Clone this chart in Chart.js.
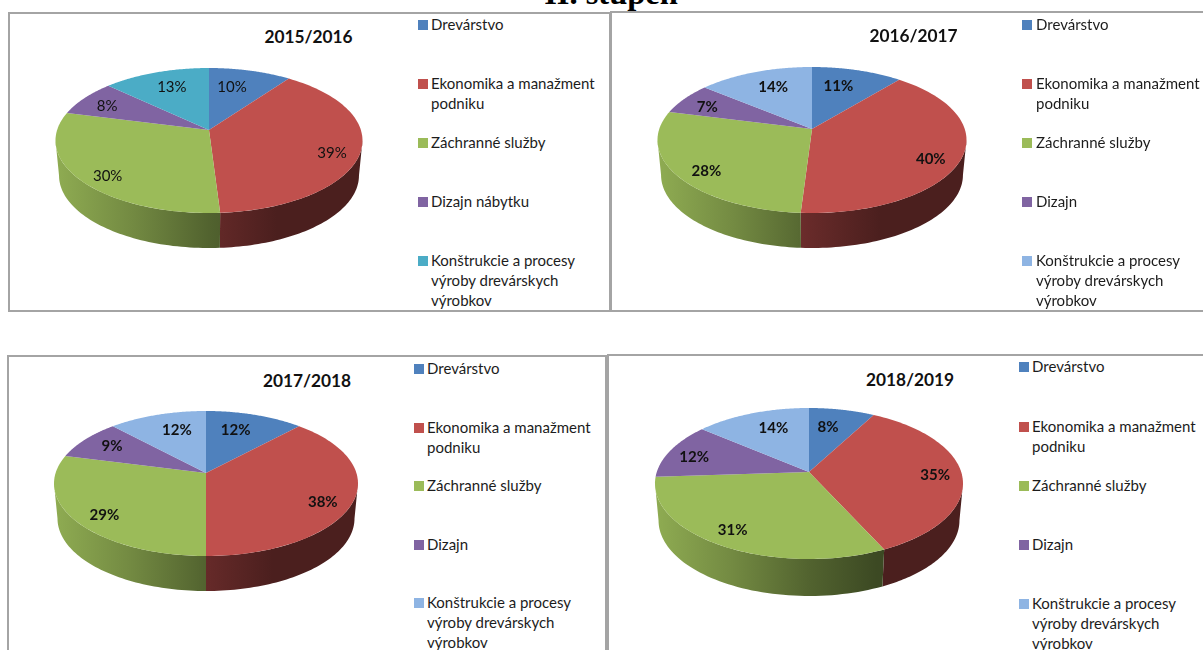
<!DOCTYPE html>
<html>
<head>
<meta charset="utf-8">
<script src="https://cdn.jsdelivr.net/npm/chart.js@4/dist/chart.umd.min.js"></script>
<style>
  html, body { margin: 0; padding: 0; background: #fff; width: 1203px; height: 650px; overflow: hidden; }
  body { position: relative; font-family: Lato, sans-serif; color: #1c1c1c; }
  .frame { position: absolute; box-sizing: border-box; border: 2px solid #a4a4a4; }
  canvas { position: absolute; }
  .head { position: absolute; left: 611px; top: -25px; transform: translateX(-50%); font: bold 32.5px "Liberation Serif", serif; color: #000; white-space: nowrap; }
  .year { position: absolute; transform: translate(-50%, -50%); font: bold 17.3px Lato, sans-serif; color: #111; white-space: nowrap; }
  .swatch { position: absolute; width: 10px; height: 10px; }
  .item { position: absolute; font-size: 15px; line-height: 20px; white-space: pre-line; }
</style>
</head>
<body>
<div class="head">II. stupeň</div>
<script>
const years = ['2015/2016', '2016/2017', '2017/2018', '2018/2019'];
const categoriesFirst = ['Drevárstvo', 'Ekonomika a manažment\npodniku', 'Záchranné služby', 'Dizajn nábytku', 'Konštrukcie a procesy\nvýroby drevárskych\nvýrobkov'];
const categoriesRest = ['Drevárstvo', 'Ekonomika a manažment\npodniku', 'Záchranné služby', 'Dizajn', 'Konštrukcie a procesy\nvýroby drevárskych\nvýrobkov'];
const shares1516 = [10, 39, 30, 8, 13];
const shares1617 = [11, 40, 28, 7, 14];
const shares1718 = [12, 38, 29, 9, 12];
const shares1819 = [8, 35, 31, 12, 14];
const colorsFirst = ['#4F81BD', '#C0504D', '#9BBB59', '#8064A2', '#4BACC6'];
const colorsRest = ['#4F81BD', '#C0504D', '#9BBB59', '#8064A2', '#8EB4E3'];

// where each picture sits on the page (top/bottom = apex to back/front rim)
const panels = [
  { frame: [8, 12, 603, 300], cx: 209, cy: 130, top: 62, bottom: 83, rx: 153.5, depth: 35, titleAt: [308.5, 36],
    legendX: 418, textX: 431, rows: [25, 84, 143, 202, 261], weight: 'normal',
    labels: years[0], values: shares1516, names: categoriesFirst, colors: colorsFirst,
    nudge: [[-10, 5], [5.5, 7], [-3, 8], [-3.5, 1], [5.5, 3]] },
  { frame: [610, 11, 600, 301], cx: 812, cy: 129, top: 62, bottom: 84, rx: 154.5, depth: 35, titleAt: [913.5, 35],
    legendX: 1022, textX: 1036, rows: [25, 84, 143, 202, 261], weight: 'bold',
    labels: years[1], values: shares1617, names: categoriesRest, colors: colorsRest,
    nudge: [[-10, 4], [3, 9], [-2, 7], [-4, 2], [7, 4]] },
  { frame: [7, 355, 600, 320], cx: 206, cy: 473, top: 62, bottom: 83, rx: 152, depth: 35, titleAt: [307, 380],
    legendX: 414, textX: 427, rows: [369, 428, 486, 545, 603], weight: 'bold',
    labels: years[2], values: shares1718, names: categoriesRest, colors: colorsRest,
    nudge: [[-9.5, 3.5], [3, 8], [-2, 6], [1.5, 0], [10, 3.5]] },
  { frame: [607, 354, 620, 320], cx: 809, cy: 472, top: 64, bottom: 87, rx: 154, depth: 37, titleAt: [910, 379],
    legendX: 1019, textX: 1032, rows: [367, 427, 486, 545, 604], weight: 'bold',
    labels: years[3], values: shares1819, names: categoriesRest, colors: colorsRest,
    nudge: [[-7.5, 5], [7, 1], [-9, 3], [-6, 2], [10, 3]] }
];

function shade(hex, k) {
  const n = parseInt(hex.slice(1), 16);
  const c = [n >> 16, (n >> 8) & 255, n & 255].map(v => Math.round(v * k));
  return `rgb(${c[0]},${c[1]},${c[2]})`;
}

// tilted disc seen in perspective, the library's arcs give the angles
const tiltedPie = {
  id: 'tiltedPie',
  beforeDatasetsDraw(chart, args, opts) {
    const ctx = chart.ctx;
    const p = opts.persp, s = opts.squash, depth = opts.depth, rx = opts.rx;
    const arcs = chart.getDatasetMeta(0).data;
    const at = (el, a, f) => {
      const d = 1 - p * f * Math.sin(a);
      return [el.outerRadius * f * Math.cos(a) / d, s * f * Math.sin(a) / d];
    };
    const wallFrom = Math.asin(p), wallTo = Math.PI - wallFrom;

    // side wall first
    arcs.forEach((el) => {
      const color = el.options.backgroundColor;
      const a0 = Math.max(el.startAngle, wallFrom), a1 = Math.min(el.endAngle, wallTo);
      if (a1 <= a0) return;
      const pts = [];
      for (let i = 0; i <= 60; i++) pts.push(at(el, a0 + (a1 - a0) * i / 60, 1));
      const g = ctx.createLinearGradient(el.x - rx, 0, el.x + rx, 0);
      g.addColorStop(0, shade(color, 0.92));
      g.addColorStop(0.25, shade(color, 0.74));
      g.addColorStop(0.5, shade(color, 0.53));
      g.addColorStop(0.72, shade(color, 0.39));
      g.addColorStop(1, shade(color, 0.39));
      ctx.beginPath();
      pts.forEach((q, i) => i ? ctx.lineTo(el.x + q[0], el.y + q[1]) : ctx.moveTo(el.x + q[0], el.y + q[1]));
      pts.slice().reverse().forEach(q => ctx.lineTo(el.x + q[0] * 0.977, el.y + q[1] + depth));
      ctx.closePath();
      ctx.fillStyle = g;
      ctx.fill();
    });

    // top face
    arcs.forEach((el) => {
      ctx.beginPath();
      ctx.moveTo(el.x, el.y);
      for (let i = 0; i <= 80; i++) {
        const q = at(el, el.startAngle + (el.endAngle - el.startAngle) * i / 80, 1);
        ctx.lineTo(el.x + q[0], el.y + q[1]);
      }
      ctx.closePath();
      ctx.fillStyle = el.options.backgroundColor;
      ctx.fill();
    });

    // percent labels
    ctx.font = opts.weight + ' 15px Lato, sans-serif';
    ctx.fillStyle = '#111';
    ctx.textAlign = 'center';
    ctx.textBaseline = 'middle';
    arcs.forEach((el, i) => {
      const q = at(el, (el.startAngle + el.endAngle) / 2, 0.78);
      ctx.fillText(chart.data.datasets[0].data[i] + '%', el.x + q[0] + opts.nudge[i][0], el.y + q[1] + opts.nudge[i][1]);
    });
    return false;
  }
};

panels.forEach((pn) => {
  const fr = document.createElement('div');
  fr.className = 'frame';
  fr.style.cssText = `left:${pn.frame[0]}px;top:${pn.frame[1]}px;width:${pn.frame[2]}px;height:${pn.frame[3]}px`;
  document.body.appendChild(fr);

  const t = document.createElement('div');
  t.className = 'year';
  t.textContent = pn.labels;
  t.style.left = pn.titleAt[0] + 'px';
  t.style.top = pn.titleAt[1] + 'px';
  document.body.appendChild(t);

  pn.names.forEach((name, i) => {
    const sw = document.createElement('div');
    sw.className = 'swatch';
    sw.style.cssText = `left:${pn.legendX}px;top:${pn.rows[i] - 5}px;background:${pn.colors[i]}`;
    document.body.appendChild(sw);
    const it = document.createElement('div');
    it.className = 'item';
    it.textContent = name;
    it.style.cssText = `left:${pn.textX}px;top:${pn.rows[i] - 11}px`;
    document.body.appendChild(it);
  });

  const w = pn.frame[2], h = pn.frame[3];
  const cv = document.createElement('canvas');
  cv.width = w; cv.height = h;
  cv.style.cssText = `left:${pn.frame[0]}px;top:${pn.frame[1]}px;width:${w}px;height:${h}px`;
  document.body.appendChild(cv);

  const px = pn.cx - pn.frame[0], py = pn.cy - pn.frame[1];
  const persp = (pn.bottom - pn.top) / (pn.bottom + pn.top);
  new Chart(cv.getContext('2d'), {
    type: 'pie',
    data: {
      labels: pn.names,
      datasets: [{
        data: pn.values,
        backgroundColor: pn.colors,
        borderWidth: 0,
        radius: pn.rx * Math.sqrt(1 - persp * persp)
      }]
    },
    options: {
      responsive: false,
      animation: false,
      layout: { padding: { left: 0, top: 0, right: w - 2 * px, bottom: h - 2 * py } },
      plugins: {
        legend: { display: false },
        tooltip: { enabled: false },
        tiltedPie: {
          persp: persp,
          squash: pn.bottom * (1 - persp),
          depth: pn.depth,
          rx: pn.rx,
          weight: pn.weight,
          nudge: pn.nudge
        }
      }
    },
    plugins: [tiltedPie]
  });
});
</script>
</body>
</html>
